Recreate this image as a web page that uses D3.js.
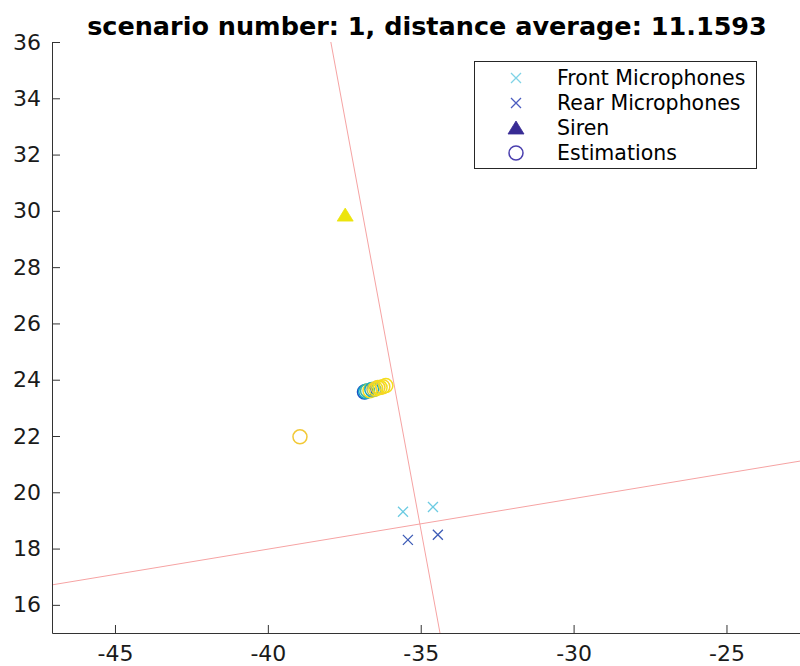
<!DOCTYPE html>
<html>
<head>
<meta charset="utf-8">
<script src="https://cdn.jsdelivr.net/npm/d3@7"></script>
<style>
  html, body { margin: 0; padding: 0; background: #fff; }
  svg { display: block; }
  text { font-family: "DejaVu Sans", sans-serif; }
</style>
</head>
<body>
<svg id="chart" width="800" height="666"></svg>
<script>
// ---- data ----
const titleText = "scenario number: 1, distance average: 11.1593";
const xTicks = [-45, -40, -35, -30, -25];
const yTicks = [16, 18, 20, 22, 24, 26, 28, 30, 32, 34, 36];

const frontMicX = [-35.58, -34.60];
const frontMicY = [19.31, 19.48];
const rearMicX = [-35.42, -34.44];
const rearMicY = [18.31, 18.49];

const sirenX = [-37.47];
const sirenY = [29.85];

// estimated source positions and their colour value (0..1 on the colormap)
const estX = [-38.95, -36.84, -36.80, -36.74, -36.66, -36.60, -36.53, -36.47, -36.40, -36.33, -36.24, -36.14];
const estY = [21.97, 23.56, 23.58, 23.61, 23.61, 23.65, 23.65, 23.68, 23.72, 23.72, 23.75, 23.79];
const estC = [0.86, 0.10, 0.38, 0.52, 0.95, 0.42, 0.70, 0.97, 0.88, 0.98, 0.90, 0.96];

// direction-of-arrival lines, as pairs of endpoints
const lineAX = [-37.94, -34.37];
const lineAY = [36, 15];
const lineBX = [-47.06, -22.53];
const lineBY = [16.71, 21.12];

const legendLabels = ["Front Microphones", "Rear Microphones", "Siren", "Estimations"];

// ---- layout ----
const svg = d3.select("#chart");
const padL = 52, padR = 802, padT = 42, padB = 633;

const x = d3.scaleLinear().domain([-47.06, -22.53]).range([padL, padR]);
const y = d3.scaleLinear().domain([15, 36]).range([padB, padT]);

const parula = d3.interpolateRgbBasis(["#352a87", "#0f5cdd", "#1481d6", "#06a4ca", "#2eb7a4", "#87bf77", "#d1bb59", "#fec832", "#f0e812"]);

svg.append("defs").append("clipPath").attr("id", "plotclip")
  .append("rect").attr("x", padL).attr("y", padT).attr("width", padR - padL).attr("height", padB - padT);

const plot = svg.append("g").attr("clip-path", "url(#plotclip)");

// DOA lines
const lineGen = d3.line().x(d => x(d[0])).y(d => y(d[1]));
[[lineAX, lineAY], [lineBX, lineBY]].forEach(([lx, ly]) => {
  plot.append("path")
    .datum(lx.map((v, i) => [v, ly[i]]))
    .attr("d", lineGen)
    .attr("fill", "none")
    .attr("stroke", "#f6a3a3")
    .attr("stroke-width", 1);
});

// cross marker
function cross(g, cx, cy, s, color) {
  g.append("path")
    .attr("d", `M${cx - s},${cy - s}L${cx + s},${cy + s}M${cx - s},${cy + s}L${cx + s},${cy - s}`)
    .attr("stroke", color).attr("stroke-width", 1.3).attr("fill", "none");
}
function triangle(g, cx, cy, color) {
  g.append("path")
    .attr("d", `M${cx},${cy - 7}L${cx + 8},${cy + 6}L${cx - 8},${cy + 6}Z`)
    .attr("fill", color).attr("stroke", color).attr("stroke-width", 0.8);
}

frontMicX.forEach((v, i) => cross(plot, x(v), y(frontMicY[i]), 5, "#6ccbe2"));
rearMicX.forEach((v, i) => cross(plot, x(v), y(rearMicY[i]), 5, "#3d5cb6"));

sirenX.forEach((v, i) => triangle(plot, x(v), y(sirenY[i]), "#ece40c"));

plot.selectAll("circle.est")
  .data(estX.map((v, i) => ({ x: v, y: estY[i], c: estC[i] })))
  .join("circle")
  .attr("class", "est")
  .attr("cx", d => x(d.x))
  .attr("cy", d => y(d.y))
  .attr("r", 7)
  .attr("fill", "none")
  .attr("stroke", d => parula(d.c))
  .attr("stroke-width", 1.5);

// ---- axes ----
const axisColor = "#333333";
const gx = svg.append("g").attr("transform", `translate(0,${padB})`)
  .call(d3.axisBottom(x).tickValues(xTicks).tickFormat(d => String(d))
    .tickSizeInner(-8).tickSizeOuter(0).tickPadding(12));
const gy = svg.append("g").attr("transform", `translate(${padL},0)`)
  .call(d3.axisLeft(y).tickValues(yTicks).tickFormat(d => String(d))
    .tickSizeInner(-8).tickSizeOuter(0).tickPadding(11));
[gx, gy].forEach(g => {
  g.select(".domain").attr("stroke", axisColor);
  g.selectAll(".tick line").attr("stroke", axisColor);
  g.selectAll(".tick text").attr("fill", "#1a1a1a")
    .style("font-family", "'DejaVu Sans', sans-serif").style("font-size", "22px");
});

// ---- title ----
svg.append("text")
  .attr("x", (padL + padR) / 2).attr("y", 35)
  .attr("text-anchor", "middle")
  .style("font-size", "25.5px").style("font-weight", "bold")
  .attr("fill", "#000")
  .text(titleText);

// ---- legend ----
const lg = svg.append("g");
lg.append("rect").attr("x", 474.5).attr("y", 61.5).attr("width", 282).attr("height", 107)
  .attr("fill", "#fff").attr("stroke", "#262626").attr("stroke-width", 1);
const rowY = [78, 103, 128, 153];
const mx = 516;
cross(lg, mx, rowY[0], 5, "#7fd3e6");
cross(lg, mx, rowY[1], 5, "#4a5cc0");
triangle(lg, mx, rowY[2], "#382b94");
lg.append("circle").attr("cx", mx).attr("cy", rowY[3]).attr("r", 7)
  .attr("fill", "none").attr("stroke", "#4a3fae").attr("stroke-width", 1.5);
legendLabels.forEach((t, i) => {
  lg.append("text").attr("x", 557).attr("y", rowY[i]).attr("dy", "0.36em")
    .style("font-size", "20.5px").attr("fill", "#000").text(t);
});
</script>
</body>
</html>
